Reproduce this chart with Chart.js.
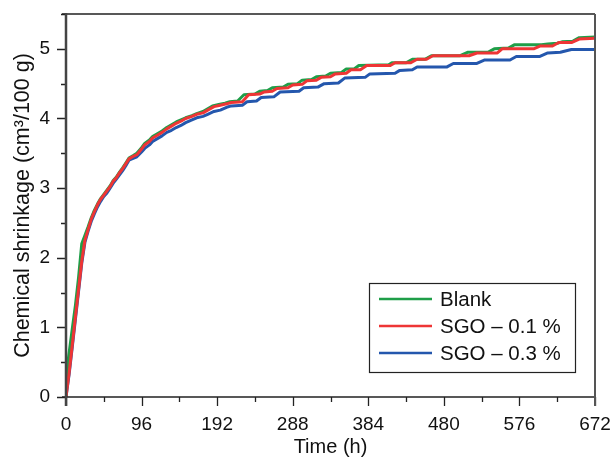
<!DOCTYPE html>
<html>
<head>
<meta charset="utf-8">
<script src="https://cdn.jsdelivr.net/npm/chart.js@4/dist/chart.umd.min.js"></script>
<style>
  body { margin: 0; background: #fff; }
  #wrap { width: 613px; height: 459px; }
</style>
</head>
<body>
<div id="wrap"><canvas id="chart" width="613" height="459"></canvas></div>
<script>
// hydration time (h) and chemical shrinkage (cm3/100 g) for each mix
const blankTime = [0, 3, 8, 12, 16, 20, 24, 28, 32, 36, 40, 44, 48, 52, 56, 60, 64, 68, 72, 76, 80, 86, 90, 96, 100, 106, 110, 116, 122, 128, 134, 140, 146, 152, 160, 166, 174, 180, 186, 194, 202, 208, 218, 226, 240, 246, 256, 262, 276, 282, 294, 300, 312, 318, 330, 336, 350, 356, 366, 372, 410, 414, 432, 440, 456, 464, 500, 510, 536, 544, 562, 570, 604, 612, 624, 630, 644, 652, 672];
const blankShrink = [0, 0.55, 0.98, 1.32, 1.72, 2.20, 2.32, 2.44, 2.57, 2.68, 2.77, 2.85, 2.91, 2.97, 3.03, 3.11, 3.16, 3.23, 3.29, 3.36, 3.43, 3.47, 3.50, 3.58, 3.64, 3.69, 3.74, 3.78, 3.82, 3.87, 3.91, 3.95, 3.98, 4.01, 4.04, 4.07, 4.10, 4.14, 4.18, 4.20, 4.22, 4.24, 4.25, 4.34, 4.35, 4.39, 4.40, 4.44, 4.45, 4.49, 4.50, 4.55, 4.56, 4.60, 4.61, 4.65, 4.66, 4.71, 4.71, 4.76, 4.77, 4.80, 4.80, 4.85, 4.85, 4.90, 4.90, 4.95, 4.95, 5.00, 5.01, 5.06, 5.06, 5.07, 5.08, 5.10, 5.11, 5.16, 5.17];

const sgo01Time = [0, 4, 8, 12, 16, 20, 24, 28, 32, 36, 40, 44, 48, 52, 56, 60, 64, 68, 72, 76, 80, 86, 90, 96, 100, 106, 110, 116, 122, 128, 134, 140, 146, 152, 160, 166, 174, 180, 188, 196, 204, 210, 224, 232, 246, 252, 262, 268, 282, 288, 300, 306, 318, 324, 336, 342, 356, 362, 374, 382, 412, 418, 438, 446, 458, 466, 512, 522, 548, 554, 594, 602, 618, 626, 642, 652, 672];
const sgo01Shrink = [0, 0.35, 0.75, 1.15, 1.55, 1.95, 2.25, 2.40, 2.55, 2.66, 2.76, 2.84, 2.90, 2.96, 3.02, 3.10, 3.15, 3.22, 3.28, 3.35, 3.42, 3.46, 3.48, 3.56, 3.62, 3.67, 3.72, 3.76, 3.80, 3.85, 3.89, 3.93, 3.96, 4.00, 4.03, 4.06, 4.08, 4.12, 4.17, 4.19, 4.21, 4.23, 4.24, 4.34, 4.35, 4.38, 4.39, 4.43, 4.44, 4.48, 4.49, 4.54, 4.55, 4.59, 4.60, 4.64, 4.65, 4.70, 4.70, 4.76, 4.76, 4.80, 4.80, 4.85, 4.85, 4.90, 4.90, 4.94, 4.94, 5.00, 5.00, 5.04, 5.04, 5.09, 5.09, 5.14, 5.15];

const sgo03Time = [0, 4, 8, 12, 16, 20, 24, 28, 32, 36, 40, 44, 48, 52, 56, 60, 64, 68, 72, 76, 80, 86, 90, 96, 100, 106, 110, 116, 122, 128, 134, 140, 146, 152, 160, 166, 174, 180, 188, 196, 204, 210, 224, 230, 242, 248, 264, 272, 296, 302, 320, 328, 346, 354, 380, 386, 418, 424, 440, 446, 484, 492, 522, 532, 564, 572, 602, 612, 628, 642, 672];
const sgo03Shrink = [0, 0.33, 0.72, 1.12, 1.52, 1.92, 2.22, 2.38, 2.52, 2.63, 2.73, 2.81, 2.88, 2.93, 3.00, 3.07, 3.13, 3.19, 3.25, 3.32, 3.40, 3.43, 3.45, 3.52, 3.57, 3.62, 3.67, 3.71, 3.75, 3.80, 3.83, 3.87, 3.90, 3.94, 3.98, 4.01, 4.03, 4.06, 4.10, 4.12, 4.16, 4.18, 4.19, 4.24, 4.25, 4.30, 4.31, 4.38, 4.39, 4.44, 4.45, 4.50, 4.51, 4.58, 4.59, 4.64, 4.65, 4.69, 4.70, 4.74, 4.74, 4.79, 4.79, 4.84, 4.84, 4.89, 4.89, 4.94, 4.95, 4.99, 4.99];

const seriesNames = ['Blank', 'SGO \u2013 0.1 %', 'SGO \u2013 0.3 %'];
const seriesColors = ['#1f9e48', '#ee3535', '#2457ad'];

const FONT = '"Liberation Sans", Arial, sans-serif';

function pairs(xs, ys) {
  return xs.map((x, i) => ({ x: x, y: ys[i] }));
}

// frame, outward ticks (major + minor) and the boxed legend
const decorations = {
  id: 'decorations',
  afterDraw(chart) {
    const ctx = chart.ctx;
    const a = chart.chartArea;
    const xs = chart.scales.x;
    const ys = chart.scales.y;
    ctx.save();

    // ticks
    ctx.strokeStyle = '#222';
    ctx.lineWidth = 1.3;
    ctx.beginPath();
    for (let t = 0; t <= 672; t += 48) {
      const px = Math.round(xs.getPixelForValue(t)) + 0.5;
      const len = t % 96 === 0 ? 9 : 5;
      ctx.moveTo(px, a.bottom);
      ctx.lineTo(px, a.bottom + len);
    }
    for (let v = 0; v <= 5.5; v += 0.5) {
      const py = Math.round(ys.getPixelForValue(v)) + 0.5;
      const len = Math.abs(v - Math.round(v)) < 1e-6 ? 9 : 5;
      ctx.moveTo(a.left, py);
      ctx.lineTo(a.left - len, py);
    }
    ctx.stroke();

    // frame
    ctx.strokeStyle = '#222';
    ctx.lineWidth = 1.5;
    ctx.beginPath();
    ctx.moveTo(a.left - 4, a.top);
    ctx.lineTo(a.right, a.top);
    ctx.moveTo(a.left - 4, a.bottom);
    ctx.lineTo(a.right + 1, a.bottom);
    ctx.stroke();
    ctx.strokeStyle = '#555';
    ctx.lineWidth = 2;
    ctx.beginPath();
    ctx.moveTo(a.right, a.top);
    ctx.lineTo(a.right, a.bottom + 9);
    ctx.stroke();
    ctx.strokeStyle = '#444';
    ctx.lineWidth = 2.5;
    ctx.beginPath();
    ctx.moveTo(a.left, a.top - 1);
    ctx.lineTo(a.left, a.bottom + 9);
    ctx.stroke();

    // legend
    const lx = 369, ly = 283, lw = 206, lh = 89;
    ctx.fillStyle = '#fff';
    ctx.fillRect(lx, ly, lw, lh);
    ctx.strokeStyle = '#222';
    ctx.lineWidth = 1.2;
    ctx.strokeRect(lx + 0.5, ly + 0.5, lw, lh);
    ctx.font = '20.5px ' + FONT;
    ctx.textBaseline = 'middle';
    ctx.textAlign = 'left';
    chart.data.datasets.forEach((ds, i) => {
      const y = 299 + i * 27;
      ctx.strokeStyle = ds.borderColor;
      ctx.lineWidth = 2.5;
      ctx.beginPath();
      ctx.moveTo(379, y);
      ctx.lineTo(432, y);
      ctx.stroke();
      ctx.fillStyle = '#111';
      ctx.fillText(ds.label, 440, y + 1);
    });
    ctx.restore();
  }
};

new Chart(document.getElementById('chart'), {
  type: 'line',
  data: {
    datasets: [
      { label: seriesNames[0], data: pairs(blankTime, blankShrink), borderColor: seriesColors[0], order: 1 },
      { label: seriesNames[1], data: pairs(sgo01Time, sgo01Shrink), borderColor: seriesColors[1], order: 0 },
      { label: seriesNames[2], data: pairs(sgo03Time, sgo03Shrink), borderColor: seriesColors[2], order: 2 }
    ]
  },
  options: {
    responsive: false,
    animation: false,
    layout: { padding: { left: 0, right: 18, top: 14, bottom: 0 } },
    elements: {
      line: { borderWidth: 3, tension: 0, fill: false, borderJoinStyle: 'round' },
      point: { radius: 0 }
    },
    plugins: {
      legend: { display: false },
      tooltip: { enabled: false }
    },
    scales: {
      x: {
        type: 'linear',
        min: 0,
        max: 672,
        grid: { display: false, drawTicks: false },
        border: { display: false },
        ticks: { stepSize: 96, padding: 16, color: '#111', font: { family: FONT, size: 19 }, maxRotation: 0 },
        title: { display: true, text: 'Time (h)', color: '#111', font: { family: FONT, size: 20 }, padding: { top: 0, bottom: 0 } },
        afterFit(scale) {
          scale.height = 62;
          scale.paddingLeft = 0;
          scale.paddingRight = 0;
        }
      },
      y: {
        min: 0,
        max: 5.5,
        grid: { display: false, drawTicks: false },
        border: { display: false },
        ticks: { stepSize: 1, includeBounds: false, padding: 16, color: '#111', font: { family: FONT, size: 19 } },
        title: { display: true, text: 'Chemical shrinkage (cm\u00b3/100 g)', color: '#111', font: { family: FONT, size: 21.5 }, padding: { top: 10, bottom: 0 } },
        afterFit(scale) {
          scale.width = 66;
          scale.paddingTop = 0;
          scale.paddingBottom = 0;
        }
      }
    }
  },
  plugins: [decorations]
});
</script>
</body>
</html>
